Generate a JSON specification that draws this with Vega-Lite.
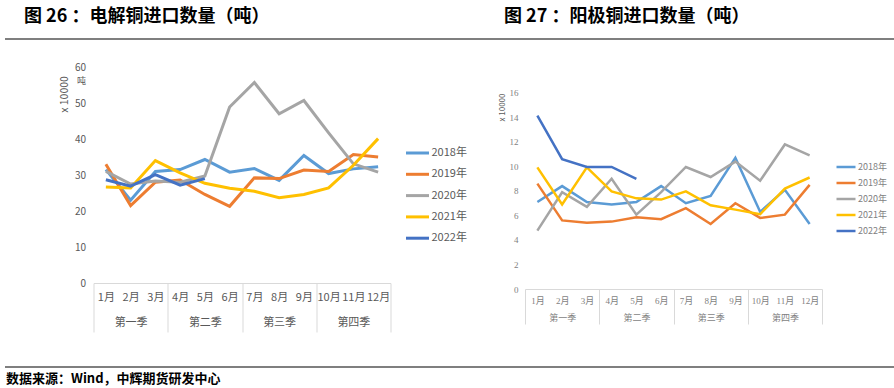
{
  "$schema": "https://vega.github.io/schema/vega-lite/v6.json",
  "padding": {"left": 5, "top": 7, "right": 0, "bottom": 0},
  "background": "white",
  "config": {"view": {"stroke": null}, "font": "Noto Sans CJK SC"},
  "datasets": {
    "cathode": [
      {"y":"2018年","m":"1月","v":31.5},{"y":"2018年","m":"2月","v":23},{"y":"2018年","m":"3月","v":31},{"y":"2018年","m":"4月","v":31.5},{"y":"2018年","m":"5月","v":34.3},{"y":"2018年","m":"6月","v":30.8},{"y":"2018年","m":"7月","v":31.8},{"y":"2018年","m":"8月","v":28.5},{"y":"2018年","m":"9月","v":35.4},{"y":"2018年","m":"10月","v":30.4},{"y":"2018年","m":"11月","v":31.7},{"y":"2018年","m":"12月","v":32.3},
      {"y":"2019年","m":"1月","v":33},{"y":"2019年","m":"2月","v":21.5},{"y":"2019年","m":"3月","v":28},{"y":"2019年","m":"4月","v":28.6},{"y":"2019年","m":"5月","v":24.6},{"y":"2019年","m":"6月","v":21.3},{"y":"2019年","m":"7月","v":29.2},{"y":"2019年","m":"8月","v":29},{"y":"2019年","m":"9月","v":31.4},{"y":"2019年","m":"10月","v":31},{"y":"2019年","m":"11月","v":35.7},{"y":"2019年","m":"12月","v":35},
      {"y":"2020年","m":"1月","v":31},{"y":"2020年","m":"2月","v":27.5},{"y":"2020年","m":"3月","v":28.3},{"y":"2020年","m":"4月","v":28},{"y":"2020年","m":"5月","v":29.7},{"y":"2020年","m":"6月","v":48.9},{"y":"2020年","m":"7月","v":55.7},{"y":"2020年","m":"8月","v":47},{"y":"2020年","m":"9月","v":50.7},{"y":"2020年","m":"10月","v":41.7},{"y":"2020年","m":"11月","v":33.1},{"y":"2020年","m":"12月","v":30.8},
      {"y":"2021年","m":"1月","v":26.7},{"y":"2021年","m":"2月","v":26.4},{"y":"2021年","m":"3月","v":34},{"y":"2021年","m":"4月","v":30.6},{"y":"2021年","m":"5月","v":27.7},{"y":"2021年","m":"6月","v":26.3},{"y":"2021年","m":"7月","v":25.5},{"y":"2021年","m":"8月","v":23.7},{"y":"2021年","m":"9月","v":24.6},{"y":"2021年","m":"10月","v":26.4},{"y":"2021年","m":"11月","v":32.7},{"y":"2021年","m":"12月","v":40.1},
      {"y":"2022年","m":"1月","v":28.7},{"y":"2022年","m":"2月","v":26.9},{"y":"2022年","m":"3月","v":30.1},{"y":"2022年","m":"4月","v":27.2},{"y":"2022年","m":"5月","v":29}
    ],
    "anode": [
      {"y":"2018年","m":"1月","v":7.1},{"y":"2018年","m":"2月","v":8.4},{"y":"2018年","m":"3月","v":7.1},{"y":"2018年","m":"4月","v":6.9},{"y":"2018年","m":"5月","v":7.1},{"y":"2018年","m":"6月","v":8.4},{"y":"2018年","m":"7月","v":7.0},{"y":"2018年","m":"8月","v":7.6},{"y":"2018年","m":"9月","v":10.7},{"y":"2018年","m":"10月","v":6.3},{"y":"2018年","m":"11月","v":8.1},{"y":"2018年","m":"12月","v":5.3},
      {"y":"2019年","m":"1月","v":8.6},{"y":"2019年","m":"2月","v":5.6},{"y":"2019年","m":"3月","v":5.4},{"y":"2019年","m":"4月","v":5.5},{"y":"2019年","m":"5月","v":5.85},{"y":"2019年","m":"6月","v":5.7},{"y":"2019年","m":"7月","v":6.6},{"y":"2019年","m":"8月","v":5.3},{"y":"2019年","m":"9月","v":7.0},{"y":"2019年","m":"10月","v":5.8},{"y":"2019年","m":"11月","v":6.07},{"y":"2019年","m":"12月","v":8.5},
      {"y":"2020年","m":"1月","v":4.76},{"y":"2020年","m":"2月","v":7.9},{"y":"2020年","m":"3月","v":6.7},{"y":"2020年","m":"4月","v":9.0},{"y":"2020年","m":"5月","v":6.07},{"y":"2020年","m":"6月","v":7.9},{"y":"2020年","m":"7月","v":9.96},{"y":"2020年","m":"8月","v":9.14},{"y":"2020年","m":"9月","v":10.4},{"y":"2020年","m":"10月","v":8.84},{"y":"2020年","m":"11月","v":11.8},{"y":"2020年","m":"12月","v":10.9},
      {"y":"2021年","m":"1月","v":9.93},{"y":"2021年","m":"2月","v":6.9},{"y":"2021年","m":"3月","v":9.93},{"y":"2021年","m":"4月","v":7.97},{"y":"2021年","m":"5月","v":7.4},{"y":"2021年","m":"6月","v":7.3},{"y":"2021年","m":"7月","v":7.97},{"y":"2021年","m":"8月","v":6.83},{"y":"2021年","m":"9月","v":6.48},{"y":"2021年","m":"10月","v":6.1},{"y":"2021年","m":"11月","v":8.2},{"y":"2021年","m":"12月","v":9.1},
      {"y":"2022年","m":"1月","v":14.15},{"y":"2022年","m":"2月","v":10.6},{"y":"2022年","m":"3月","v":9.96},{"y":"2022年","m":"4月","v":9.96},{"y":"2022年","m":"5月","v":8.98}
    ]
  },
  "vconcat": [
    {
      "spacing": 15,
      "vconcat": [
        {
          "spacing": 0,
          "hconcat": [
            {
              "width": 482, "height": 0.01,
              "data": {"values": [{}]},
              "mark": "text",
              "encoding": {"text": {"value": ""}},
              "view": {"stroke": "#7f7f7f", "strokeWidth": 2},
              "title": {"text": "图 26 ：电解铜进口数量（吨）", "anchor": "start", "dx": 18, "fontSize": 18, "fontWeight": "bold", "color": "#000000", "offset": 7}
            },
            {
              "width": 407, "height": 0.01,
              "data": {"values": [{}]},
              "mark": "text",
              "encoding": {"text": {"value": ""}},
              "view": {"stroke": "#7f7f7f", "strokeWidth": 2},
              "title": {"text": "图 27 ：阳极铜进口数量（吨）", "anchor": "start", "dx": 14, "fontSize": 18, "fontWeight": "bold", "color": "#000000", "offset": 7}
            }
          ]
        },
        {
          "spacing": 30.5,
          "resolve": {"scale": {"color": "independent", "x": "independent", "y": "independent"}, "legend": {"color": "independent"}},
          "hconcat": [
            {
              "width": 22.5, "height": 0.01,
              "data": {"values": [{}]},
              "mark": "text",
              "encoding": {"text": {"value": ""}}
            },
            {
              "width": 297, "height": 216,
              "data": {"name": "cathode"},
              "mark": {"type": "line", "strokeWidth": 3},
              "encoding": {
                "x": {"field": "m", "type": "ordinal",
                  "scale": {"type": "band", "domain": ["1月","2月","3月","4月","5月","6月","7月","8月","9月","10月","11月","12月"], "paddingInner": 0, "paddingOuter": 0},
                  "axis": {"title": null, "tickBand": "extent", "domainColor": "#D9D9D9", "tickColor": "#D9D9D9", "tickSize": 49,
                    "tickOpacity": {"condition": {"test": "indexof(['3月','6月','9月','12月'], datum.value) >= 0 || datum.extra", "value": 1}, "value": 0},
                    "labelAngle": 0, "labelOverlap": false, "labelPadding": -41, "labelLineHeight": 25, "labelFontSize": 11, "labelColor": "#595959",
                    "labelExpr": "datum.label == '2月' ? ['2月','第一季'] : datum.label == '5月' ? ['5月','第二季'] : datum.label == '8月' ? ['8月','第三季'] : datum.label == '11月' ? ['11月','第四季'] : datum.label"}},
                "y": {"field": "v", "type": "quantitative",
                  "scale": {"domain": [0, 60], "nice": false},
                  "axis": {"values": [0,10,20,30,40,50,56.2,60], "labelOverlap": false, "domain": false, "ticks": false, "grid": false, "labelPadding": 8, "labelColor": "#595959",
                    "labelFontSize": {"condition": {"test": "datum.value == 56.2", "value": 9}, "value": 10},
                    "labelExpr": "datum.value == 56.2 ? '吨' : datum.label",
                    "title": "x 10000", "titleAngle": 270, "titleX": -29, "titleY": 27, "titleAlign": "center", "titleBaseline": "middle", "titleFontSize": 10.5, "titleFontWeight": "normal", "titleColor": "#595959"}},
                "color": {"field": "y", "type": "nominal",
                  "scale": {"domain": ["2018年","2019年","2020年","2021年","2022年"], "range": ["#5B9BD5","#ED7D31","#A5A5A5","#FFC000","#4472C4"]},
                  "legend": {"title": null, "orient": "none", "legendX": 311, "legendY": 73, "symbolType": "stroke", "symbolSize": 529, "symbolStrokeWidth": 3, "labelFontSize": 11, "labelColor": "#595959", "rowPadding": 2.3, "labelOffset": 1}}
              }
            },
            {
              "width": 297, "height": 222,
              "data": {"name": "anode"},
              "mark": {"type": "line", "strokeWidth": 2.5},
              "encoding": {
                "x": {"field": "m", "type": "ordinal",
                  "scale": {"type": "band", "domain": ["1月","2月","3月","4月","5月","6月","7月","8月","9月","10月","11月","12月"], "paddingInner": 0, "paddingOuter": 0},
                  "axis": {"title": null, "tickBand": "extent", "domainColor": "#D9D9D9", "tickColor": "#D9D9D9", "tickSize": 35,
                    "tickOpacity": {"condition": {"test": "indexof(['3月','6月','9月','12月'], datum.value) >= 0 || datum.extra", "value": 1}, "value": 0},
                    "labelAngle": 0, "labelOverlap": false, "labelPadding": -28, "labelLineHeight": 17, "labelFontSize": 9, "labelColor": "#7f7f7f", "labelFont": "Liberation Serif, Noto Sans CJK SC",
                    "labelExpr": "datum.label == '2月' ? ['2月','第一季'] : datum.label == '5月' ? ['5月','第二季'] : datum.label == '8月' ? ['8月','第三季'] : datum.label == '11月' ? ['11月','第四季'] : datum.label"}},
                "y": {"field": "v", "type": "quantitative",
                  "scale": {"domain": [0, 18.12], "nice": false},
                  "axis": {"values": [0,2,4,6,8,10,12,14,16], "labelOverlap": false, "domain": false, "ticks": false, "grid": false, "labelPadding": 7, "labelFontSize": 9, "labelColor": "#7f7f7f", "labelFont": "Liberation Serif",
                    "title": "x 10000", "titleAngle": 270, "titleX": -23, "titleY": 40, "titleAlign": "center", "titleBaseline": "middle", "titleFontSize": 8, "titleFontWeight": "normal", "titleColor": "#595959"}},
                "color": {"field": "y", "type": "nominal",
                  "scale": {"domain": ["2018年","2019年","2020年","2021年","2022年"], "range": ["#5B9BD5","#ED7D31","#A5A5A5","#FFC000","#4472C4"]},
                  "legend": {"title": null, "orient": "none", "legendX": 310, "legendY": 89, "symbolType": "stroke", "symbolSize": 361, "symbolStrokeWidth": 2.5, "labelFontSize": 9, "labelColor": "#7f7f7f", "rowPadding": -4, "labelOffset": 1}}
              }
            }
          ]
        }
      ]
    },
    {
      "width": 889, "height": 0.01,
      "data": {"values": [{}]},
      "mark": "text",
      "encoding": {"text": {"value": ""}},
      "view": {"stroke": "#7f7f7f", "strokeWidth": 2},
      "title": {"text": "数据来源：Wind，中辉期货研发中心", "orient": "bottom", "anchor": "start", "fontSize": 13, "fontWeight": "bold", "color": "#000000", "offset": 1}
    }
  ],
  "spacing": 27
}
